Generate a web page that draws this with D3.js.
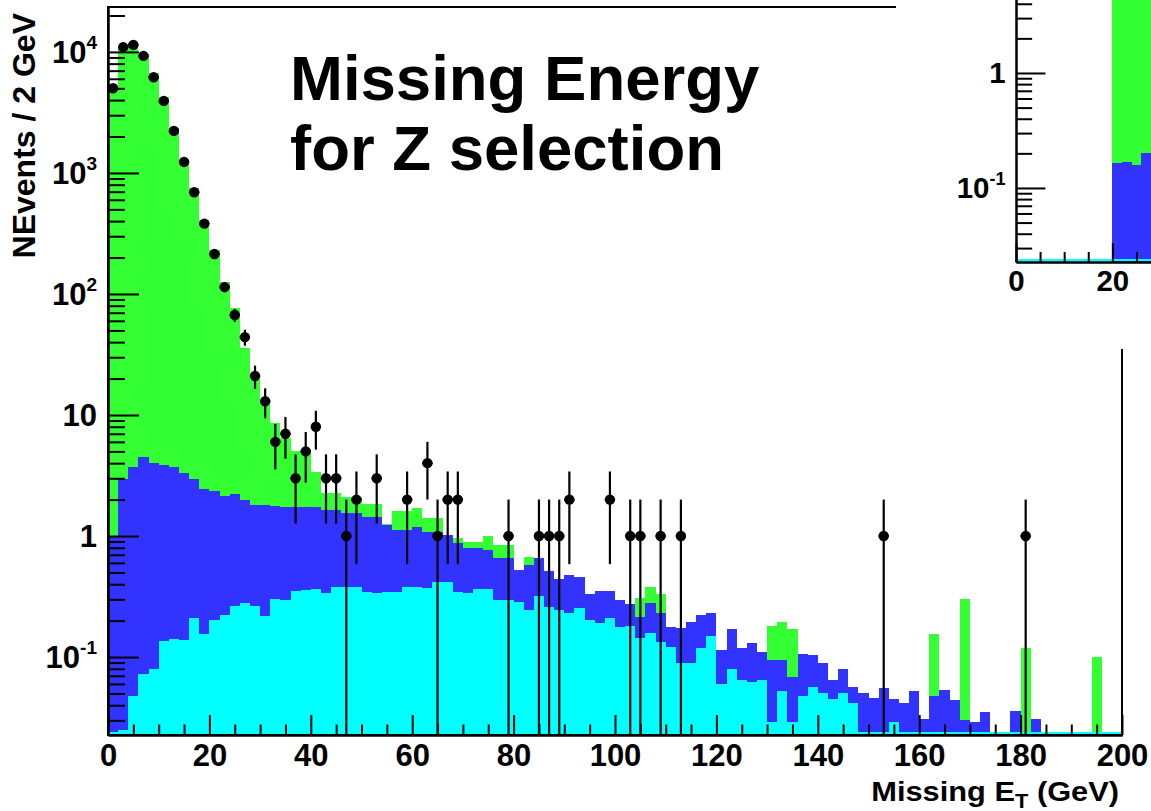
<!DOCTYPE html>
<html>
<head>
<meta charset="utf-8">
<script src="https://cdn.jsdelivr.net/npm/d3@7"></script>
<style>
  html, body { margin: 0; padding: 0; background: #fff; }
  svg { display: block; }
  text { font-family: "Liberation Sans", Arial, Helvetica, sans-serif; font-weight: bold; fill: #000; }
</style>
</head>
<body>
<svg id="chart" width="1151" height="811"></svg>
<script>
// Missing transverse energy, 2 GeV bins from 0 to 200 GeV
const binWidth = 2;

// Stacked simulation, bottom to top
const cyanVals = [
  0.024, 0.025, 0.048, 0.072, 0.079, 0.137, 0.14, 0.138, 0.21, 0.154,
  0.202, 0.223, 0.266, 0.28, 0.266, 0.218, 0.30, 0.296, 0.35, 0.358,
  0.362, 0.336, 0.381, 0.376, 0.376, 0.346, 0.336, 0.346, 0.346, 0.381,
  0.381, 0.37, 0.42, 0.42, 0.346, 0.336, 0.362, 0.362, 0.296, 0.296,
  0.286, 0.245, 0.319, 0.26, 0.245, 0.23, 0.253, 0.202, 0.192, 0.21,
  0.176, 0.18, 0.143, 0.159, 0.134, 0.122, 0.09, 0.09, 0.118, 0.149,
  0.06, 0.079, 0.0645, 0.062, 0.0645, 0.029, 0.052, 0.029, 0.048, 0.057,
  0.05, 0.045, 0.05, 0.042, 0, 0, 0, 0.029, 0, 0,
  0, 0, 0, 0, 0, 0, 0, 0, 0, 0,
  0, 0, 0, 0, 0, 0, 0, 0, 0, 0
];
const blueVals = [
  0.976, 2.93, 3.65, 4.43, 3.96, 3.71, 3.60, 3.19, 2.73, 2.30,
  2.17, 1.93, 1.94, 1.70, 1.53, 1.58, 1.47, 1.45, 1.40, 1.39,
  1.39, 1.30, 1.26, 1.16, 1.16, 1.09, 1.10, 0.88, 0.77, 0.74,
  0.81, 0.71, 0.66, 0.60, 0.53, 0.46, 0.44, 0.40, 0.36, 0.36,
  0.24, 0.33, 0.34, 0.25, 0.20, 0.25, 0.21, 0.13, 0.16, 0.14,
  0.12, 0.094, 0.07, 0.12, 0.096, 0.056, 0.083, 0.106, 0.105, 0.081,
  0.054, 0.091, 0.054, 0.069, 0.046, 0.065, 0.042, 0.04, 0.059, 0.047,
  0.039, 0.020, 0.029, 0.015, 0.05, 0.046, 0.055, 0.016, 0.042, 0.052,
  0.031, 0.048, 0.053, 0.044, 0.030, 0.029, 0.035, 0, 0, 0.036,
  0, 0.031, 0, 0, 0, 0, 0, 0, 0, 0
];
const greenVals = [
  4899, 10597, 10896, 9596, 6696, 4266, 2351, 1277, 749, 406.6,
  228.6, 122.9, 73.8, 34.0, 18.2, 11.2, 6.83, 4.75, 3.25, 3.25,
  1.65, 0.62, 0.62, 0.57, 0.57, 0.40, 0.40, 0.03, 0.49, 0.49,
  0.50, 0.32, 0.32, 0, 0.095, 0.097, 0.097, 0.24, 0.18, 0.18,
  0, 0.10, 0, 0, 0, 0, 0, 0, 0, 0,
  0, 0, 0.093, 0.10, 0.10, 0, 0, 0, 0, 0,
  0, 0, 0, 0, 0, 0.086, 0.102, 0.10, 0, 0,
  0, 0, 0, 0, 0, 0, 0, 0, 0, 0,
  0, 0.107, 0, 0, 0.27, 0, 0, 0, 0, 0,
  0.118, 0, 0, 0, 0, 0, 0, 0.1, 0, 0
];

// Observed events per bin
const dataCounts = [
  5010, 10940, 11430, 9270, 6170, 3935, 2224, 1233, 692, 381,
  214, 114, 67, 44, 21, 13, 6, 7, 3, 5,
  8, 3, 3, 1, 2, 0, 3, 0, 0, 2,
  0, 4, 1, 2, 2, 0, 0, 0, 0, 1,
  0, 0, 1, 1, 1, 2, 0, 0, 0, 2,
  0, 1, 1, 0, 1, 0, 1, 0, 0, 0,
  0, 0, 0, 0, 0, 0, 0, 0, 0, 0,
  0, 0, 0, 0, 0, 0, 1, 0, 0, 0,
  0, 0, 0, 0, 0, 0, 0, 0, 0, 0,
  1, 0, 0, 0, 0, 0, 0, 0, 0, 0
];

// Second panel (after the 20 GeV cut), first bins only
const insetCyanVals  = [0, 0, 0, 0, 0, 0, 0, 0, 0, 0, 0, 0, 0, 0, 0];
const insetBlueVals  = [0, 0, 0, 0, 0, 0, 0, 0, 0, 0, 0.165, 0.168, 0.158, 0.20, 0.20];
const insetGreenVals = [0, 0, 0, 0, 0, 0, 0, 0, 0, 0, 260, 150, 90, 50, 30];

const xMajorTicks = [0, 20, 40, 60, 80, 100, 120, 140, 160, 180, 200];
const yDecades = [0.1, 1, 10, 100, 1000, 10000];
const yDecadeLabels = [["10", "-1"], ["1", ""], ["10", ""], ["10", "2"], ["10", "3"], ["10", "4"]];

const titleLines = ["Missing Energy", "for Z selection"];
const yTitle = "NEvents / 2 GeV";

const colors = { cyan: "#00ffff", blue: "#3333ff", green: "#33ff33" };

const W = 1151, H = 811;
const svg = d3.select("#chart");

function buildRows(c, b, g) {
  return c.map((_, i) => ({ lo: i * binWidth, hi: (i + 1) * binWidth, cyan: c[i], blue: b[i], green: g[i] }));
}

function minorLogTicks(domain) {
  const out = [];
  for (let e = -3; e <= 5; e++) {
    for (let k = 2; k <= 9; k++) {
      const v = k * Math.pow(10, e);
      if (v >= domain[0] && v <= domain[1]) out.push(v);
    }
  }
  return out;
}

function drawStack(g, rows, xs, ys, bottom) {
  const layers = d3.stack().keys(["cyan", "blue", "green"])(rows);
  const area = d3.area().x(d => d[0]).y0(bottom).y1(d => d[1]);
  layers.slice().reverse().forEach(layer => {
    const pts = [];
    layer.forEach(s => {
      const top = s[1];
      const yy = top > 0 ? ys(top) : bottom;
      pts.push([xs(s.data.lo), yy], [xs(s.data.hi), yy]);
    });
    g.append("path")
      .attr("d", area(pts))
      .attr("fill", colors[layer.key])
      .attr("shape-rendering", "crispEdges");
  });
}

function drawAxes(g, xs, ys, f, s, xVisibleMax) {
  const yDom = ys.domain();
  const xMinor = d3.range(0, 201, 5).filter(v => v % 20 !== 0 && xs(v) <= xVisibleMax);
  const xMajor = xMajorTicks.filter(v => xs(v) <= xVisibleMax);
  const fs = 31 * s;

  // x axis: ticks point into the frame
  const xAxisMinor = d3.axisBottom(xs).tickValues(xMinor).tickSize(-10.5 * s).tickSizeOuter(0).tickFormat("");
  const xAxisMajor = d3.axisBottom(xs).tickValues(xMajor).tickSize(-20 * s).tickSizeOuter(0)
    .tickPadding(9 * s).tickFormat(d3.format("d"));
  const gxm = g.append("g").attr("transform", `translate(0,${f.bottom})`).call(xAxisMinor);
  const gx = g.append("g").attr("transform", `translate(0,${f.bottom})`).call(xAxisMajor);
  [gxm, gx].forEach(a => {
    a.selectAll("line").attr("stroke", "#000").attr("stroke-width", 2);
    a.select(".domain").attr("stroke", "#000").attr("stroke-width", 2);
  });
  gx.selectAll("text")
    .attr("font-size", fs)
    .attr("font-family", "'Liberation Sans', Arial, sans-serif")
    .attr("font-weight", "bold")
    .attr("fill", "#000");

  // y axis (log): decade and minor ticks
  const yAxisMinor = d3.axisLeft(ys).tickValues(minorLogTicks(yDom)).tickSize(-17 * s).tickSizeOuter(0).tickFormat("");
  const yAxisMajor = d3.axisLeft(ys).tickValues(yDecades.filter(v => ys(v) >= -5)).tickSize(-31 * s).tickSizeOuter(0).tickFormat("");
  const gym = g.append("g").attr("transform", `translate(${f.left},0)`).call(yAxisMinor);
  const gy = g.append("g").attr("transform", `translate(${f.left},0)`).call(yAxisMajor);
  [gym, gy].forEach(a => {
    a.selectAll("line").attr("stroke", "#000").attr("stroke-width", 2);
    a.select(".domain").attr("stroke", "#000").attr("stroke-width", 2);
  });

  // decade labels with superscript exponents
  yDecades.forEach((v, i) => {
    const yy = ys(v);
    if (yy < 20) return;
    const t = g.append("text")
      .attr("x", f.left - 11 * s)
      .attr("y", yy + 11 * s)
      .attr("text-anchor", "end")
      .attr("font-size", fs);
    t.append("tspan").text(yDecadeLabels[i][0]);
    if (yDecadeLabels[i][1]) {
      t.append("tspan").attr("dy", -14 * s).attr("font-size", 19 * s).text(yDecadeLabels[i][1]);
    }
  });
}

// ---------------- main panel ----------------
const F = { left: 108, right: 1122, top: 7, bottom: 735 };
const yDomain = [0.0227, 23500];
const x = d3.scaleLinear().domain([0, 200]).range([F.left, F.right]);
const y = d3.scaleLog().domain(yDomain).range([F.bottom, F.top]).clamp(true);

svg.append("defs").append("clipPath").attr("id", "mainClip")
  .append("rect").attr("x", F.left).attr("y", F.top)
  .attr("width", F.right - F.left).attr("height", F.bottom - F.top);

const plot = svg.append("g").attr("clip-path", "url(#mainClip)");
const rows = buildRows(cyanVals, blueVals, greenVals);
drawStack(plot, rows, x, y, F.bottom);

// cyan outline along the floor of the frame
plot.append("line")
  .attr("x1", x(0)).attr("x2", x(200))
  .attr("y1", F.bottom - 2).attr("y2", F.bottom - 2)
  .attr("stroke", colors.cyan).attr("stroke-width", 2);

// data points with Poisson errors
const pts = dataCounts.map((n, i) => ({ n, lo: i * binWidth, hi: (i + 1) * binWidth })).filter(d => d.n > 0);
const pg = plot.append("g");
pts.forEach(d => {
  const cx = x((d.lo + d.hi) / 2);
  const cy = y(d.n);
  const err = Math.sqrt(d.n);
  const yLow = d.n - err > 0 ? y(d.n - err) : F.bottom;
  pg.append("line").attr("x1", cx).attr("x2", cx).attr("y1", y(d.n + err)).attr("y2", yLow)
    .attr("stroke", "#000").attr("stroke-width", 2.2);
  pg.append("line").attr("x1", x(d.lo)).attr("x2", x(d.hi)).attr("y1", cy).attr("y2", cy)
    .attr("stroke", "#000").attr("stroke-width", 2.2);
  pg.append("circle").attr("cx", cx).attr("cy", cy).attr("r", 5.2).attr("fill", "#000");
});

// frame
svg.append("rect").attr("x", F.left).attr("y", F.top)
  .attr("width", F.right - F.left).attr("height", F.bottom - F.top)
  .attr("fill", "none").attr("stroke", "#000").attr("stroke-width", 2);

drawAxes(svg.append("g"), x, y, F, 1, W);

// axis titles (x title is set slightly wide, right-aligned under the frame)
const xt = svg.append("g").attr("transform", "translate(1119,801) scale(1.12,1)")
  .append("text").attr("x", 0).attr("y", 0).attr("text-anchor", "end").attr("font-size", 27.5);
xt.append("tspan").text("Missing E");
xt.append("tspan").attr("font-size", 19.5).attr("dy", 7).text("T");
xt.append("tspan").attr("dy", -7).text(" (GeV)");

svg.append("text")
  .attr("transform", "translate(35,13) rotate(-90)")
  .attr("text-anchor", "end")
  .attr("font-size", 32)
  .text(yTitle);

// plot title
svg.append("text").attr("x", 290).attr("y", 100).attr("font-size", 63.5).text(titleLines[0]);
svg.append("text").attr("x", 290).attr("y", 170).attr("font-size", 63.5).text(titleLines[1]);

// ---------------- second panel (partly visible) ----------------
const s2 = 0.95;
const F2 = { left: 1016, right: 1016 + 1014 * s2, top: 262 - 728 * s2, bottom: 262 };
const x2 = d3.scaleLinear().domain([0, 200]).range([F2.left, F2.right]);
const y2 = d3.scaleLog().domain(yDomain).range([F2.bottom, F2.top]).clamp(true);

const inset = svg.append("g");
inset.append("rect").attr("x", 896).attr("y", 0).attr("width", W - 896).attr("height", 349).attr("fill", "#fff");

svg.select("defs").append("clipPath").attr("id", "insetClip")
  .append("rect").attr("x", F2.left).attr("y", 0).attr("width", W - F2.left).attr("height", F2.bottom);

const iplot = inset.append("g").attr("clip-path", "url(#insetClip)");
drawStack(iplot, buildRows(insetCyanVals, insetBlueVals, insetGreenVals), x2, y2, F2.bottom);
iplot.append("line")
  .attr("x1", F2.left).attr("x2", W)
  .attr("y1", F2.bottom - 2).attr("y2", F2.bottom - 2)
  .attr("stroke", colors.cyan).attr("stroke-width", 2);

drawAxes(inset.append("g"), x2, y2, F2, s2, W);
</script>
</body>
</html>
